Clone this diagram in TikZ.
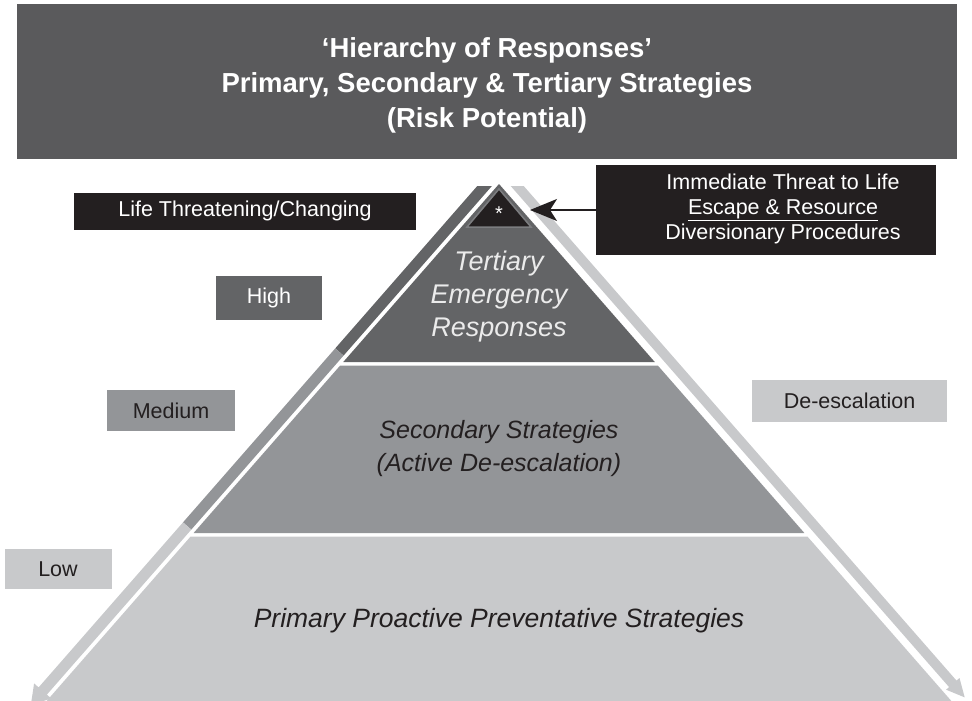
\documentclass[tikz,border=0pt]{standalone}
\usepackage{fontspec}
\setmainfont{Liberation Sans}
\usetikzlibrary{arrows.meta}
\definecolor{hdrgray}{HTML}{5A5A5C}
\definecolor{tierdark}{HTML}{636466}
\definecolor{tiermid}{HTML}{939598}
\definecolor{tierlight}{HTML}{C8C9CB}
\definecolor{ink}{HTML}{231F20}
\definecolor{rim}{HTML}{7C7D80}
\tikzset{
  tag/.style={inner sep=0pt, align=center, font=\fontsize{21.5}{25}\selectfont},
  tiertext/.style={inner sep=0pt, align=center, font=\fontsize{25}{33}\selectfont\itshape},
}
\begin{document}
\begin{tikzpicture}[x=1pt,y=-1pt]
\useasboundingbox (0,0) rectangle (972,701);
\clip (0,0) rectangle (972,701);

% title banner
\fill[hdrgray] (17,4) rectangle (957,159);
\node[inner sep=0pt, align=center, text=white,
      font=\fontsize{27.5}{35}\selectfont\bfseries] (title) at (487,85)
  {‘Hierarchy of Responses’\\Primary, Secondary \& Tertiary Strategies\\(Risk Potential)};

% pyramid tiers
\fill[tierdark]  (499,184) -- (654.75,362) -- (343.25,362) -- cycle;
\fill[tiermid]   (340.2,365.5) -- (657.8,365.5) -- (804.4,533) -- (193.6,533) -- cycle;
\fill[tierlight] (190.6,536.5) -- (807.4,536.5) -- (954.9,705) -- (43.1,705) -- cycle;
\filldraw[fill=ink, draw=rim, line width=1.5] (499,189) -- (531,227) -- (467,227) -- cycle;
\node[inner sep=0pt, text=white, font=\fontsize{20}{20}\selectfont] (star) at (499,214) {*};

% escalation band (left)
\fill[tierdark]  (477.3,186) -- (491.9,186) -- (343.55,355.6) -- (335.27,348.35) -- cycle;
\fill[tiermid]   (335.27,348.35) -- (343.55,355.6) -- (191.3,529.6) -- (183.0,522.35) -- cycle;
\fill[tierlight] (183.0,522.35) -- (191.3,529.6) -- (46.9,694.6) -- (51.4,698.6) -- (30.9,704.6)
                 -- (34.1,683.4) -- (38.6,687.4) -- cycle;
% de-escalation band (right)
\fill[tierlight] (510.7,186) -- (949.1,687.1) -- (946.1,689.7) -- (964.7,697.4) -- (959.5,678)
                 -- (956.5,680.6) -- (523.7,186) -- cycle;

% tier captions
\node[tiertext, text=white!92!black, font=\fontsize{27}{33}\selectfont\itshape] (tertiary) at (499,297)
  {Tertiary\\Emergency\\Responses};
\node[tiertext, text=ink] (secondary) at (499,449) {Secondary Strategies\\(Active De-escalation)};
\node[tiertext, text=ink, font=\fontsize{26.5}{33}\selectfont\itshape] (primary) at (499,621)
  {Primary Proactive Preventative Strategies};

% risk labels
\node[tag, fill=ink, text=white, minimum width=342, minimum height=37] (life) at (245,211) {Life Threatening/Changing};
\node[tag, fill=tierdark, text=white, minimum width=106, minimum height=44] (high) at (269,298) {High};
\node[tag, fill=tiermid, text=ink, minimum width=128, minimum height=41] (medium) at (171,410.5) {Medium};
\node[tag, fill=tierlight, text=ink, minimum width=107, minimum height=40] (low) at (58,569) {Low};
\node[tag, fill=tierlight, text=ink, minimum width=195, minimum height=42] (deesc) at (849.5,401) {De-escalation};

% threat box and pointer
\fill[ink] (596,165) rectangle (936,255);
\node[tag, text=white] (threat) at (783,209)
  {Immediate Threat to Life\\\underline{Escape \& Resource}\\Diversionary Procedures};
\coordinate (boxedge) at (596,210);
\coordinate (tip) at (530,210);
\draw[ink, line width=1.5, -{Stealth[length=27, width=22, inset=7]}] (boxedge) -- (tip);
\end{tikzpicture}
\end{document}
